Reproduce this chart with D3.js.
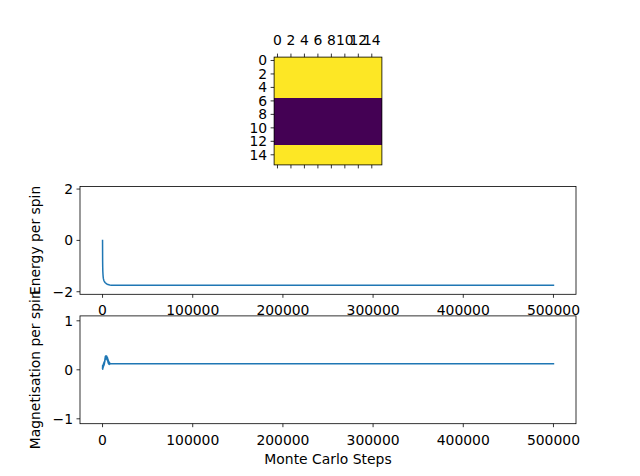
<!DOCTYPE html>
<html><head><meta charset="utf-8">
<script src="https://cdn.jsdelivr.net/npm/d3@7"></script>
<style>body{margin:0;background:#fff}svg{display:block}text{font-family:"DejaVu Sans",sans-serif;font-size:13.9px;fill:#000}</style>
</head><body>
<script>
// ---- data ----
const gridSize = 16;
const rowSpins = [1,1,1,1,1,1,-1,-1,-1,-1,-1,-1,-1,1,1,1];
const imgTicks = [0,2,4,6,8,10,12,14];
const energySteps = [0, 50, 100, 200, 300, 500, 700, 1000, 1500, 2000, 3000, 4000, 5000, 6000, 8000, 10000, 12000, 500000];
const energyValues = [0, -0.45, -0.8, -1.05, -1.2, -1.33, -1.42, -1.5, -1.56, -1.6, -1.65, -1.68, -1.7, -1.72, -1.735, -1.745, -1.75, -1.75];
const magSteps = [0, 100, 200, 300, 400, 500, 600, 700, 800, 900, 1000, 1100, 1200, 1300, 1400, 1500, 1600, 1700, 1800, 1900, 2000, 2150, 2300, 2450, 2600, 2750, 2900, 3050, 3200, 3350, 3500, 3650, 3800, 3950, 4100, 4250, 4400, 4550, 4700, 4850, 5000, 5150, 5300, 5450, 5600, 5750, 5900, 6050, 6200, 6350, 6500, 6650, 6800, 6950, 7100, 7250, 7400, 7550, 7700, 7850, 8000, 8300, 8600, 9000, 500000];
const magValues = [0.03, 0.09, 0.01, 0.08, 0.03, 0.1, 0.04, 0.09, 0.06, 0.12, 0.07, 0.11, 0.08, 0.14, 0.09, 0.13, 0.11, 0.16, 0.1, 0.15, 0.12, 0.17, 0.14, 0.2, 0.17, 0.24, 0.2, 0.27, 0.23, 0.28, 0.22, 0.27, 0.24, 0.28, 0.22, 0.27, 0.23, 0.28, 0.22, 0.26, 0.21, 0.26, 0.19, 0.25, 0.18, 0.23, 0.16, 0.21, 0.14, 0.2, 0.13, 0.18, 0.12, 0.17, 0.12, 0.16, 0.11, 0.15, 0.12, 0.14, 0.12, 0.135, 0.12, 0.125, 0.125];
const xTicks = [0, 100000, 200000, 300000, 400000, 500000];
const energyTicks = [-2, 0, 2];
const magTicks = [-1, 0, 1];

const W = 640, H = 476;
const svg = d3.select("body").append("svg").attr("width", W).attr("height", H);
const fmt = d => String(d).replace("-", "\u2212");

// ---- heatmap ----
const imgL = 274.1, imgT = 57.1, imgS = 107.8;
const ix = d3.scaleLinear().domain([-0.5, gridSize - 0.5]).range([imgL, imgL + imgS]);
const iy = d3.scaleLinear().domain([-0.5, gridSize - 0.5]).range([imgT, imgT + imgS]);
const color = d3.scaleOrdinal().domain([-1, 1]).range(["#440154", "#fde725"]);
const cells = [];
rowSpins.forEach((s, r) => { for (let c = 0; c < gridSize; c++) cells.push({r, c, s}); });
svg.append("g").selectAll("rect").data(cells).join("rect")
  .attr("x", d => ix(d.c - 0.5)).attr("y", d => iy(d.r - 0.5))
  .attr("width", ix(1) - ix(0) + 0.3).attr("height", iy(1) - iy(0) + 0.3)
  .attr("fill", d => color(d.s)).attr("shape-rendering", "crispEdges");
svg.append("rect").attr("x", imgL).attr("y", imgT).attr("width", imgS).attr("height", imgS)
  .attr("fill", "none").attr("stroke", "#000").attr("stroke-width", 0.8);
imgTicks.forEach(t => {
  svg.append("line").attr("x1", ix(t)).attr("x2", ix(t)).attr("y1", imgT).attr("y2", imgT - 3.5).attr("stroke", "#000").attr("stroke-width", 0.8);
  svg.append("line").attr("x1", ix(t)).attr("x2", ix(t)).attr("y1", imgT + imgS).attr("y2", imgT + imgS + 3.5).attr("stroke", "#000").attr("stroke-width", 0.8);
  svg.append("text").attr("x", ix(t)).attr("y", imgT - 12.5).attr("text-anchor", "middle").text(t);
  svg.append("line").attr("x1", imgL).attr("x2", imgL - 3.5).attr("y1", iy(t)).attr("y2", iy(t)).attr("stroke", "#000").attr("stroke-width", 0.8);
  svg.append("text").attr("x", imgL - 7).attr("y", iy(t) + 5).attr("text-anchor", "end").text(t);
});

// ---- line plots ----
const axL = 80, axR = 576;
const x = d3.scaleLinear().domain([-25000, 525000]).range([axL, axR]);

function panel(top, bottom, yDomain, yTicks, steps, vals, label) {
  const y = d3.scaleLinear().domain(yDomain).range([bottom, top]);
  const g = svg.append("g");
  const line = d3.line().x(d => x(d[0])).y(d => y(d[1]));
  g.append("path").datum(steps.map((s, i) => [s, vals[i]])).attr("d", line)
    .attr("fill", "none").attr("stroke", "#1f77b4").attr("stroke-width", 1.5).attr("stroke-linejoin", "round").attr("stroke-linecap", "square");
  g.append("rect").attr("x", axL).attr("y", top).attr("width", axR - axL).attr("height", bottom - top)
    .attr("fill", "none").attr("stroke", "#000").attr("stroke-width", 0.8);
  xTicks.forEach(t => {
    g.append("line").attr("x1", x(t)).attr("x2", x(t)).attr("y1", bottom).attr("y2", bottom + 3.5).attr("stroke", "#000").attr("stroke-width", 0.8);
    g.append("text").attr("x", x(t)).attr("y", bottom + 21).attr("text-anchor", "middle").text(t);
  });
  yTicks.forEach(t => {
    g.append("line").attr("x1", axL).attr("x2", axL - 3.5).attr("y1", y(t)).attr("y2", y(t)).attr("stroke", "#000").attr("stroke-width", 0.8);
    g.append("text").attr("x", axL - 7).attr("y", y(t) + 5).attr("text-anchor", "end").text(fmt(t));
  });
  g.append("text").attr("transform", `translate(40,${(top + bottom) / 2}) rotate(-90)`).attr("text-anchor", "middle").text(label);
  return y;
}
panel(186.5, 294.3, [-2.1, 2.1], energyTicks, energySteps, energyValues, "Energy per spin");
panel(315.9, 423.7, [-1.1, 1.1], magTicks, magSteps, magValues, "Magnetisation per spin");
svg.append("text").attr("x", (axL + axR) / 2).attr("y", 464).attr("text-anchor", "middle").text("Monte Carlo Steps");
</script>
</body></html>
